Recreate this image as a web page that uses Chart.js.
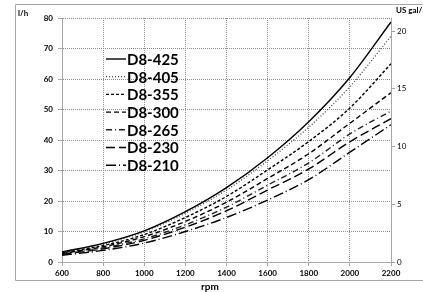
<!DOCTYPE html>
<html lang="en">
<head>
    <meta charset="UTF-8">
    <title>Fuel consumption vs rpm</title>
    <script src="https://cdn.jsdelivr.net/npm/chart.js"></script>
    <style>
        html, body {
            margin: 0;
            padding: 0;
            background: #fff;
        }
        .chart-container {
            position: relative;
            width: 423px;
            height: 292px;
        }
    </style>
</head>
<body>
    <div class="chart-container">
        <canvas id="fuelChart"></canvas>
    </div>

    <script>
        // rpm steps and flow values (l/h)
        const rpm = [600, 800, 1000, 1200, 1400, 1600, 1800, 2000, 2200];
        const models = ['D8-425', 'D8-405', 'D8-355', 'D8-300', 'D8-265', 'D8-230', 'D8-210'];
        const d8_425 = [3.3, 6.1, 10.2, 16.5, 24.4, 34.2, 46.0, 60.5, 78.7];
        const d8_405 = [3.2, 5.9, 9.9, 16.0, 23.6, 33.2, 44.2, 57.5, 74.0];
        const d8_355 = [3.0, 5.4, 9.0, 14.6, 21.5, 30.2, 39.5, 50.5, 65.0];
        const d8_300 = [2.8, 5.0, 8.3, 13.3, 19.6, 27.4, 35.5, 45.5, 55.5];
        const d8_265 = [2.6, 4.6, 7.6, 12.2, 18.0, 25.2, 32.5, 42.0, 49.5];
        const d8_230 = [2.5, 4.3, 7.1, 11.4, 16.8, 23.6, 30.5, 39.4, 47.0];
        const d8_210 = [2.2, 3.8, 6.2, 10.0, 14.6, 20.3, 27.0, 36.0, 45.0];
        const seriesValues = [d8_425, d8_405, d8_355, d8_300, d8_265, d8_230, d8_210];
        const galTicks = [0, 5, 10, 15, 20];

        const LITRES_PER_GAL = 3.785;
        const FONT = 'Lato, "Open Sans", sans-serif';

        const dashes = [[], [1, 2], [3, 2], [5, 3], [6, 3, 1, 3], [9, 4], [10, 3, 1, 3]];
        const colors = ['#000', '#444', '#000', '#000', '#222', '#000', '#000'];

        const datasets = models.map((name, i) => ({
            label: name,
            data: rpm.map((r, j) => ({ x: r, y: seriesValues[i][j] })),
            borderColor: colors[i],
            borderWidth: i === 1 ? 1.3 : 1.4,
            borderDash: dashes[i],
            pointRadius: 0,
            tension: 0.4,
            cubicInterpolationMode: 'monotone',
            fill: false
        }));

        // frame, axis titles and the legend inside the plot
        const decorations = {
            id: 'decorations',
            beforeDraw(chart) {
                const ctx = chart.ctx;
                ctx.save();
                ctx.strokeStyle = '#a6a6a6';
                ctx.lineWidth = 1;
                ctx.beginPath();
                ctx.moveTo(430, 4.5);
                ctx.lineTo(15.5, 4.5);
                ctx.lineTo(15.5, 280.5);
                ctx.lineTo(430, 280.5);
                ctx.stroke();
                ctx.restore();
            },
            afterDraw(chart) {
                const ctx = chart.ctx;
                ctx.save();
                ctx.fillStyle = '#000';
                ctx.font = 'bold 8px ' + FONT;
                ctx.textBaseline = 'middle';
                ctx.textAlign = 'left';
                ctx.fillText('l/h', 18, 13);
                ctx.fillText('US gal/', 396, 10);
                ctx.font = 'bold 10px ' + FONT;
                ctx.textAlign = 'center';
                ctx.fillText('rpm', 210, 287);

                // legend
                const x0 = 106, y0 = 59, rowH = 17.7, sample = 20;
                ctx.font = 'bold 15px ' + FONT;
                ctx.textAlign = 'left';
                chart.data.datasets.forEach((ds, i) => {
                    const y = y0 + i * rowH;
                    ctx.strokeStyle = ds.borderColor;
                    ctx.lineWidth = ds.borderWidth;
                    ctx.setLineDash(ds.borderDash);
                    ctx.beginPath();
                    ctx.moveTo(x0, y);
                    ctx.lineTo(x0 + sample, y);
                    ctx.stroke();
                    ctx.setLineDash([]);
                    ctx.fillText(ds.label, x0 + sample + 1, y + 1);
                });
                ctx.restore();
            }
        };

        new Chart(document.getElementById('fuelChart'), {
            type: 'line',
            data: { datasets },
            options: {
                responsive: true,
                maintainAspectRatio: false,
                animation: false,
                layout: { padding: { top: 18, left: 0, right: 0, bottom: 0 } },
                plugins: {
                    legend: { display: false },
                    tooltip: { enabled: false }
                },
                scales: {
                    x: {
                        type: 'linear',
                        min: 600,
                        max: 2200,
                        ticks: {
                            stepSize: 200,
                            color: '#000',
                            padding: 3,
                            maxRotation: 0,
                            callback: (v) => String(v),
                            font: { family: FONT, size: 8, weight: 'bold' }
                        },
                        grid: { color: '#8c8c8c', lineWidth: 1, tickLength: 4, tickColor: '#a6a6a6' },
                        border: { color: '#a6a6a6', dash: [1, 1] },
                        afterFit(scale) { scale.height = 30; }
                    },
                    y: {
                        position: 'left',
                        min: 0,
                        max: 80,
                        ticks: {
                            stepSize: 10,
                            color: '#000',
                            padding: 5,
                            font: { family: FONT, size: 8, weight: 'bold' }
                        },
                        grid: { color: '#8c8c8c', lineWidth: 1, tickLength: 4, tickColor: '#a6a6a6' },
                        border: { color: '#a6a6a6', dash: [1, 1] },
                        afterFit(scale) { scale.width = 62; }
                    },
                    y2: {
                        position: 'right',
                        min: 0,
                        max: 80 / LITRES_PER_GAL,
                        afterBuildTicks(scale) {
                            scale.ticks = galTicks.map(v => ({ value: v }));
                        },
                        ticks: {
                            color: '#000',
                            padding: 2,
                            font: { family: FONT, size: 8 }
                        },
                        grid: { drawOnChartArea: false, tickLength: 4, tickColor: '#a6a6a6' },
                        border: { color: '#a6a6a6' },
                        afterFit(scale) { scale.width = 32; }
                    }
                }
            },
            plugins: [decorations]
        });
    </script>
</body>
</html>
